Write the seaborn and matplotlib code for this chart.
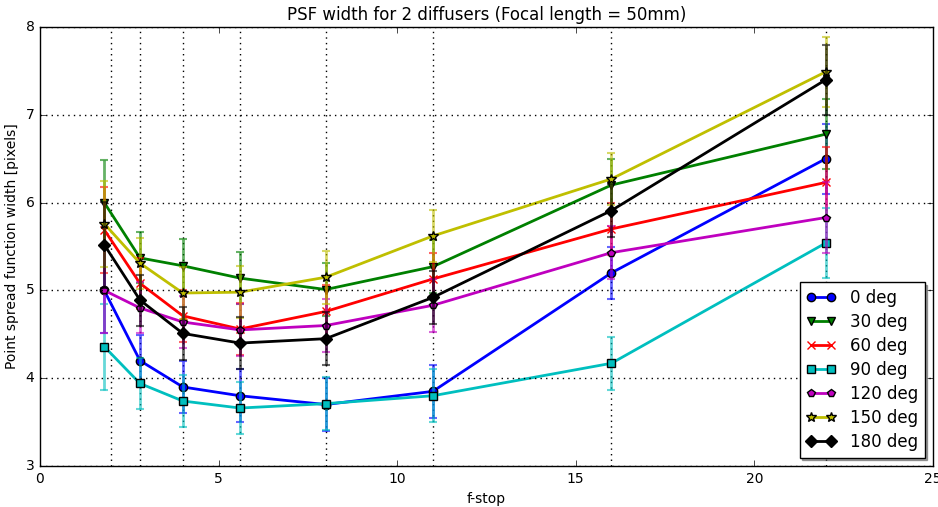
import matplotlib
matplotlib.use("Agg")
import matplotlib.pyplot as plt
import seaborn as sns
import numpy as np

fstops = [1.8, 2.8, 4, 5.6, 8, 11, 16, 22]
grid_stops = [2, 2.8, 4, 5.6, 8, 11, 16, 22]
labels = ["0 deg", "30 deg", "60 deg", "90 deg", "120 deg", "150 deg", "180 deg"]
psf_0 = [5.00, 4.20, 3.90, 3.80, 3.70, 3.85, 5.20, 6.50]
psf_30 = [6.00, 5.37, 5.28, 5.14, 5.01, 5.27, 6.20, 6.78]
psf_60 = [5.69, 5.08, 4.71, 4.56, 4.76, 5.13, 5.70, 6.23]
psf_90 = [4.36, 3.94, 3.74, 3.66, 3.71, 3.80, 4.17, 5.54]
psf_120 = [5.00, 4.80, 4.64, 4.55, 4.60, 4.83, 5.43, 5.83]
psf_150 = [5.76, 5.31, 4.97, 4.98, 5.15, 5.62, 6.27, 7.49]
psf_180 = [5.52, 4.89, 4.51, 4.40, 4.45, 4.92, 5.91, 7.40]
psf_err = [0.49, 0.29, 0.30, 0.30, 0.30, 0.30, 0.30, 0.40]

series = [psf_0, psf_30, psf_60, psf_90, psf_120, psf_150, psf_180]
colors = ["#0000ff", "#008000", "#ff0000", "#00bfbf", "#bf00bf", "#bfbf00", "#000000"]
markers = ["o", "v", "x", "s", "p", "*", "D"]
msizes = [6, 6, 6, 6, 6, 7, 6]

sns.set_style("white")
plt.style.use("classic")
plt.rcParams["font.family"] = ["DejaVu Sans"]
plt.rcParams["figure.facecolor"] = "white"
plt.rcParams["savefig.facecolor"] = "white"

fig = plt.figure(figsize=(9.38, 5.07), dpi=100)
ax = fig.add_axes([0.0426, 0.0809, 0.952, 0.8658])

for gx in grid_stops:
    ax.axvline(gx, color="k", linestyle=":", linewidth=1, zorder=0)

handles = []
for vals, col, mk, ms, lab in zip(series, colors, markers, msizes, labels):
    ax.errorbar(fstops, vals, yerr=psf_err, fmt="none", ecolor=col, alpha=0.6,
                elinewidth=2, capsize=3, capthick=1.5)
    sns.lineplot(x=fstops, y=vals, color=col, marker=mk, markersize=ms,
                 markeredgecolor=(col if mk == "x" else "k"), markeredgewidth=1,
                 linewidth=2, ax=ax, label=lab, legend=False)
    handles.append(ax.lines[-1])

ax.set_xlim(0, 25)
ax.set_ylim(3, 8)
ax.set_xticks([0, 5, 10, 15, 20, 25])
ax.set_yticks([3, 4, 5, 6, 7, 8])
ax.yaxis.grid(True, linestyle=":", color="k", linewidth=1)
ax.xaxis.grid(False)
ax.tick_params(labelsize=10)
ax.set_xlabel("f-stop", fontsize=10)
ax.set_ylabel("Point spread function width [pixels]", fontsize=10)
ax.set_title("PSF width for 2 diffusers (Focal length = 50mm)", fontsize=12)
ax.legend(handles, labels, loc="lower right", numpoints=2, fontsize=12,
          shadow=True, fancybox=False, framealpha=1, handlelength=1.8,
          labelspacing=0.36, borderaxespad=0.5)

fig.savefig("out.png", dpi=100)
